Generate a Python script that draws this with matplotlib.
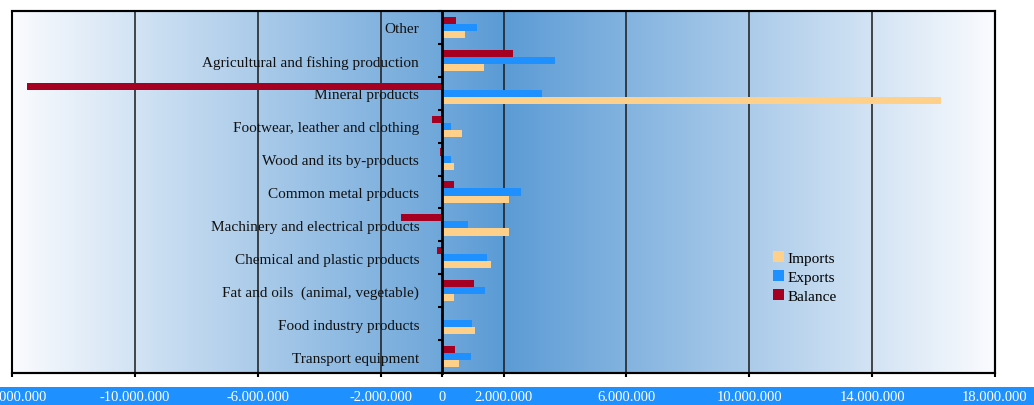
import numpy as np
import matplotlib
matplotlib.use("Agg")
import matplotlib.pyplot as plt
from matplotlib.patches import Patch, Rectangle
from matplotlib.colors import LinearSegmentedColormap

categories = [
    "Transport equipment",
    "Food industry products",
    "Fat and oils  (animal, vegetable)",
    "Chemical and plastic products",
    "Machinery and electrical products",
    "Common metal products",
    "Wood and its by-products",
    "Footwear, leather and clothing",
    "Mineral products",
    "Agricultural and fishing production",
    "Other",
]
imports = [560000, 1080000, 380000, 1600000, 2190000, 2190000, 380000, 640000, 16240000, 1350000, 750000]
exports = [940000, 990000, 1410000, 1470000, 860000, 2580000, 300000, 300000, 3250000, 3690000, 1130000]
balance = [430000, -50000, 1030000, -170000, -1330000, 390000, -80000, -340000, -13500000, 2320000, 440000]

xticks = [-14e6, -10e6, -6e6, -2e6, 0, 2e6, 6e6, 10e6, 14e6, 18e6]
xlim = (-14e6, 18e6)

C_IMP = "#FFD08A"
C_EXP = "#1E90FF"
C_BAL = "#A50021"

W, H = 1034, 406
fig = plt.figure(figsize=(W / 100, H / 100), dpi=100)
fig.patch.set_facecolor("white")

# blue band behind x tick labels
fig.patches.append(Rectangle((0, 0), 1, 18 / H, transform=fig.transFigure,
                             facecolor="#1E90FF", edgecolor="none", zorder=-5))

ax = fig.add_axes([12 / W, 1 - 374 / H, (995 - 12) / W, (374 - 12) / H])
ax.set_xlim(*xlim)
ax.set_ylim(-0.5, len(categories) - 0.5)

# gradient background (white - blue - white)
cmap = LinearSegmentedColormap.from_list("bg", ["#FAFBFE", "#5B9BD5", "#FAFBFE"])
grad = np.linspace(0, 1, 512).reshape(1, -1)
ax.imshow(grad, cmap=cmap, aspect="auto", extent=(xlim[0], xlim[1], -0.5, len(categories) - 0.5),
          zorder=0, interpolation="bicubic")

y = np.arange(len(categories))
h = 0.215
ax.barh(y + h, balance, height=h, color=C_BAL, zorder=3, label="Balance")
ax.barh(y, exports, height=h, color=C_EXP, zorder=3, label="Exports")
ax.barh(y - h, imports, height=h, color=C_IMP, zorder=3, label="Imports")

# vertical gridlines
for t in xticks[1:-1]:
    if t != 0:
        ax.axvline(t, color="#1a1a1a", lw=1.1, zorder=1)

# spines: left spine at zero, frame drawn separately
for s in ["top", "right", "bottom"]:
    ax.spines[s].set_linewidth(1.5)
ax.spines["left"].set_position(("data", 0))
ax.spines["left"].set_linewidth(2)
ax.spines["left"].set_zorder(4)
ax.add_patch(Rectangle((0, 0), 1, 1, transform=ax.transAxes, fill=False,
                       edgecolor="black", lw=1.5, clip_on=False, zorder=5))

# y ticks: marks at boundaries, labels at centers
ax.set_yticks(np.arange(len(categories) + 1) - 0.5)
ax.set_yticklabels([])
ax.tick_params(axis="y", which="major", length=3, width=1.5, direction="out")
ax.set_yticks(y, minor=True)
ax.set_yticklabels(categories, minor=True, fontsize=11, family="Liberation Serif", color="#111111")
ax.tick_params(axis="y", which="minor", length=0, pad=16.5)

# x ticks
ax.set_xticks(xticks)
ax.set_xticklabels([f"{int(t):,}".replace(",", ".") for t in xticks],
                   fontsize=10.5, family="Liberation Serif", color="white")
ax.tick_params(axis="x", length=3, width=1.5, direction="out", pad=9.5)

handles = [Patch(facecolor=C_IMP, label="Imports"),
           Patch(facecolor=C_EXP, label="Exports"),
           Patch(facecolor=C_BAL, label="Balance")]
ax.legend(handles=handles, loc="upper left", bbox_to_anchor=(759 / W, 1 - 238 / H),
          bbox_transform=fig.transFigure, frameon=False,
          prop={"family": "Liberation Serif", "size": 11},
          handlelength=0.75, handleheight=0.75, handletextpad=0.2, labelspacing=0.35)

fig.savefig("out.png", dpi=100)
